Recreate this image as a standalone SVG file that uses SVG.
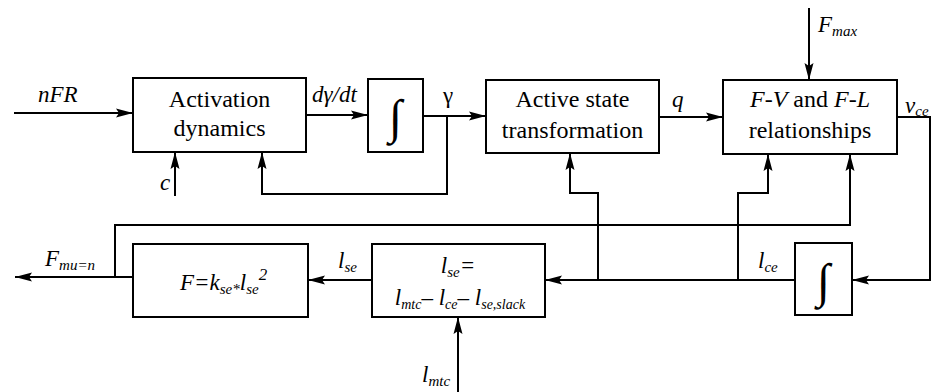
<svg xmlns="http://www.w3.org/2000/svg" width="939" height="392" viewBox="0 0 939 392">
<defs>
<marker id="ah" markerWidth="18" markerHeight="12" refX="17" refY="6" orient="auto" markerUnits="userSpaceOnUse">
<path d="M0,1.5 L17,6 L0,10.5 L3,6 Z" fill="#000"/>
</marker>
</defs>
<style>
.box{fill:#fff;stroke:#000;stroke-width:2}
.ln{fill:none;stroke:#000;stroke-width:2;marker-end:url(#ah)}
text{font-family:'Liberation Serif','DejaVu Serif','Noto Serif',serif;fill:#000}
.t{font-size:24px;text-anchor:middle}
.i{font-style:italic}
.lbl{font-size:23px;font-style:italic}
.sm{font-size:15px}
.int{font-size:48px;text-anchor:middle}
</style>
<rect width="939" height="392" fill="#fff"/>

<g id="connectors">
<path class="ln" d="M14,113 H133"/>
<path class="ln" d="M306,115 H368"/>
<path class="ln" d="M423,116 H486"/>
<path class="ln" d="M447,116 V194 H262 V152"/>
<path class="ln" d="M175,196 V152"/>
<path class="ln" d="M659,117 H723"/>
<path class="ln" d="M809,8 V80"/>
<path class="ln" d="M897,117 H930 V280 H852"/>
<path class="ln" d="M795,280 H545"/>
<path class="ln" d="M598,280 V193 H570 V153"/>
<path class="ln" d="M738,280 V193 H768 V154"/>
<path class="ln" d="M372,280 H308"/>
<path class="ln" d="M133,277 H15"/>
<path class="ln" d="M115,277 V225 H850 V154"/>
<path class="ln" d="M458,392 V317"/>
</g>

<g id="activation">
<rect class="box" x="133" y="78" width="173" height="74"/>
<text class="t" x="219.5" y="107">Activation</text>
<text class="t" x="219.5" y="136">dynamics</text>
</g>

<g id="integrator1">
<rect class="box" x="368" y="79" width="55" height="73"/>
<text class="int" x="395.5" y="133">∫</text>
</g>

<g id="active-state">
<rect class="box" x="486" y="80" width="173" height="73"/>
<text class="t" x="572.5" y="107">Active state</text>
<text class="t" x="572.5" y="138">transformation</text>
</g>

<g id="fv-fl">
<rect class="box" x="723" y="80" width="174" height="74"/>
<text class="t" x="810" y="107"><tspan class="i">F-V</tspan> and <tspan class="i">F-L</tspan></text>
<text class="t" x="810" y="138">relationships</text>
</g>

<g id="integrator2">
<rect class="box" x="795" y="243" width="57" height="72"/>
<text class="int" x="823.5" y="297">∫</text>
</g>

<g id="lse-calc">
<rect class="box" x="372" y="244" width="173" height="73"/>
<text class="lbl" x="458" y="273" text-anchor="middle">l<tspan class="sm" dy="4">se</tspan><tspan dy="-4">=</tspan></text>
<text class="lbl" x="460" y="305" text-anchor="middle" font-size="22">l<tspan font-size="14" dy="4">mtc</tspan><tspan dy="-4">– l</tspan><tspan font-size="14" dy="4">ce</tspan><tspan dy="-4">– l</tspan><tspan font-size="14" dy="4">se,slack</tspan></text>
</g>

<g id="force">
<rect class="box" x="133" y="244" width="175" height="73"/>
<text class="lbl" x="180" y="290">F=k<tspan class="sm" dy="4">se</tspan><tspan class="sm">*</tspan><tspan dy="-4">l</tspan><tspan class="sm" dy="4">se</tspan><tspan dy="-14" font-size="17">2</tspan></text>
</g>

<g id="labels">
<text class="lbl" x="38" y="102">nFR</text>
<text class="lbl" x="160" y="190">c</text>
<text class="lbl" x="312" y="102">dγ/dt</text>
<text x="443" y="103" font-size="23">γ</text>
<text class="lbl" x="672" y="107">q</text>
<text class="lbl" x="818" y="32">F<tspan class="sm" dy="4">max</tspan></text>
<text class="lbl" x="905" y="113">ν<tspan class="sm" dy="3">ce</tspan></text>
<text class="lbl" x="45" y="266">F<tspan class="sm" dy="4">mu=n</tspan></text>
<text class="lbl" x="338" y="268">l<tspan class="sm" dy="4">se</tspan></text>
<text class="lbl" x="758" y="268">l<tspan class="sm" dy="4">ce</tspan></text>
<text class="lbl" x="422" y="382">l<tspan class="sm" dy="4">mtc</tspan></text>
</g>
</svg>
